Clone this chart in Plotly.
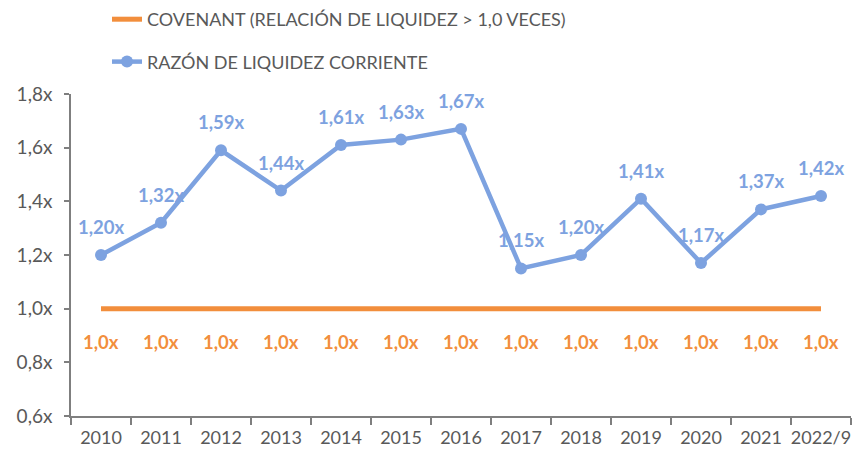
import plotly.graph_objects as go

categories = ["2010", "2011", "2012", "2013", "2014", "2015", "2016",
              "2017", "2018", "2019", "2020", "2021", "2022/9"]
razon = [1.20, 1.32, 1.59, 1.44, 1.61, 1.63, 1.67, 1.15, 1.20, 1.41, 1.17, 1.37, 1.42]
covenant = [1.0] * len(categories)
ytick_vals = [0.6, 0.8, 1.0, 1.2, 1.4, 1.6, 1.8]
ytick_text = ["0,6x", "0,8x", "1,0x", "1,2x", "1,4x", "1,6x", "1,8x"]

BLUE = "#7DA2E0"
ORANGE = "#F28E3C"
GRAY_TXT = "#595959"
AXIS = "#7F7F7F"
FONT = "Lato"

fig = go.Figure()
fig.add_trace(go.Scatter(
    x=categories, y=covenant, mode="lines",
    name="COVENANT (RELACIÓN DE LIQUIDEZ > 1,0 VECES)",
    line=dict(color=ORANGE, width=5), legendgroup="a"))
fig.add_trace(go.Scatter(
    x=categories, y=razon, mode="lines+markers",
    name="RAZÓN DE LIQUIDEZ CORRIENTE",
    line=dict(color=BLUE, width=4.5),
    marker=dict(color=BLUE, size=12), legendgroup="b"))

annotations = []
for i, v in enumerate(razon):
    annotations.append(dict(x=i, y=v, text=f"{v:.2f}x".replace(".", ","),
                            showarrow=False, yshift=28,
                            font=dict(family=FONT, size=18.5, color=BLUE, weight="bold")))
for i, v in enumerate(covenant):
    annotations.append(dict(x=i, y=v, text=f"{v:.1f}x".replace(".", ","),
                            showarrow=False, yshift=-33,
                            font=dict(family=FONT, size=18.5, color=ORANGE, weight="bold")))

fig.update_layout(
    width=854, height=451,
    margin=dict(l=71, r=3, t=94, b=35, autoexpand=False),
    paper_bgcolor="white", plot_bgcolor="white",
    font=dict(family=FONT, size=18, color=GRAY_TXT),
    showlegend=True,
    legend=dict(x=(107 - 71) / 780, y=1 + (94 - 1) / 322, xanchor="left", yanchor="top",
                orientation="v", tracegroupgap=16, bgcolor="rgba(0,0,0,0)",
                font=dict(family=FONT, size=18, color=GRAY_TXT)),
    annotations=annotations,
    xaxis=dict(type="category", showline=True, linecolor=AXIS, linewidth=1.5,
               ticks="outside", tickson="boundaries", ticklen=7, tickcolor=AXIS,
               tickwidth=1.5, showgrid=False, zeroline=False, automargin=False,
               range=[-0.5, len(categories) - 0.5], tickangle=0,
               ticklabelstandoff=5,
               tickfont=dict(family=FONT, size=18, color=GRAY_TXT)),
    yaxis=dict(range=[0.6, 1.8], showline=True, linecolor=AXIS, linewidth=1.5,
               ticks="outside", ticklen=5, tickcolor=AXIS, tickwidth=1.5,
               tickvals=ytick_vals, ticktext=ytick_text, showgrid=False,
               zeroline=False, ticklabelstandoff=8, automargin=False,
               tickfont=dict(family=FONT, size=19, color=GRAY_TXT)),
)

fig.write_html("out.html", config={"displayModeBar": False},
               post_script="document.body.style.margin='0';")
